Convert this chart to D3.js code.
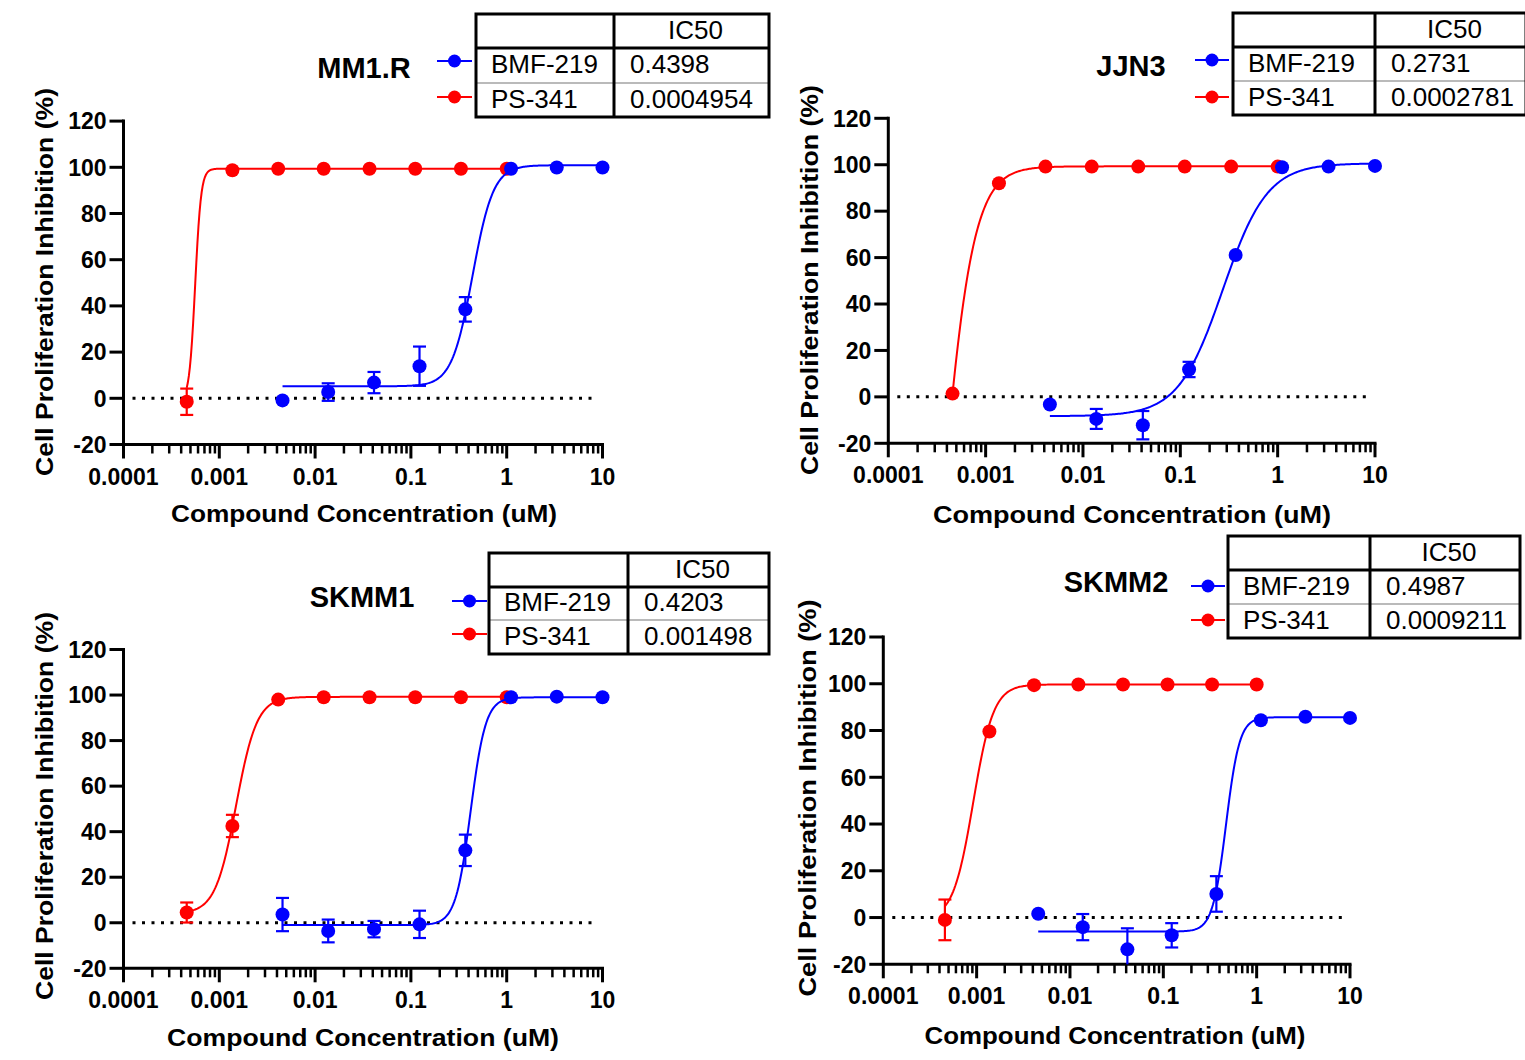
<!DOCTYPE html>
<html>
<head>
<meta charset="utf-8">
<title>Dose response</title>
<script src="https://d3js.org/d3.v7.min.js"></script>
<style>
  body { margin: 0; background: #fff; }
  svg { display: block; font-family: "Liberation Sans", Arial, sans-serif; }
  .tick-label { font-size: 23px; font-weight: bold; }
  .title { font-size: 29px; font-weight: bold; }
  .axis-title { font-size: 24px; font-weight: bold; }
  .cell { font-size: 26px; }
</style>
</head>
<body>
<script>
// doses (uM), 3-fold dilution series
var doseBMF = [0.00457, 0.0137, 0.0412, 0.123, 0.370, 1.11, 3.33, 10];
var dosePS  = [0.000457, 0.00137, 0.00412, 0.0123, 0.0370, 0.111, 0.333, 1];

var cellLines = ["MM1.R", "JJN3", "SKMM1", "SKMM2"];
var compounds = ["BMF-219", "PS-341"];

// mean % inhibition and error, per cell line
var mm1rBMF    = [-0.9, 2.7, 6.8, 13.9, 38.5, 99.4, 99.9, 99.9];
var mm1rBMFErr = [0, 3.8, 4.6, 8.5, 5.3, 0, 0, 0];
var mm1rPS     = [-1.5, 98.7, 99.4, 99.4, 99.4, 99.4, 99.4, 99.4];
var mm1rPSErr  = [5.7, 0, 0, 0, 0, 0, 0, 0];

var jjn3BMF    = [-3.3, -9.5, -12.2, 11.8, 61.1, 98.9, 99.2, 99.5];
var jjn3BMFErr = [0, 4.3, 6.1, 3.3, 0, 0, 0, 0];
var jjn3PS     = [1.4, 92.0, 99.2, 99.2, 99.2, 99.2, 99.2, 99.2];
var jjn3PSErr  = [0, 0, 0, 0, 0, 0, 0, 0];

var skmm1BMF    = [3.6, -3.6, -2.8, -0.7, 31.8, 99.0, 99.3, 99.0];
var skmm1BMFErr = [7.3, 5.0, 3.6, 6.0, 6.9, 0, 0, 0];
var skmm1PS     = [4.5, 42.5, 98.0, 99.0, 99.0, 99.0, 99.0, 99.0];
var skmm1PSErr  = [4.4, 4.9, 0, 0, 0, 0, 0, 0];

var skmm2BMF    = [1.6, -4.1, -13.6, -7.6, 10.1, 84.4, 85.9, 85.4];
var skmm2BMFErr = [0, 5.6, 9.0, 5.2, 7.6, 0, 0, 0];
var skmm2PS     = [-1.0, 79.6, 99.4, 99.7, 99.7, 99.7, 99.7, 99.7];
var skmm2PSErr  = [8.7, 0, 0, 0, 0, 0, 0, 0];

// fitted curves: [bottom, top, midpoint, hill]
var mm1rBMFFit  = [5.2, 100.9, 0.44, 4];
var mm1rPSFit   = [-1, 99.4, 0.00056, 14];
var jjn3BMFFit  = [-8.3, 100.6, 0.2731, 1.9];
var jjn3PSFit   = [-200, 99.3, 0.00035, 2.7];
var skmm1BMFFit = [-1, 99.0, 0.4203, 5.5];
var skmm1PSFit  = [4, 99.2, 0.001498, 4];
var skmm2BMFFit = [-6, 85.7, 0.47, 6];
var skmm2PSFit  = [-1, 99.7, 0.00092, 4];

// IC50 table text
var ic50BMF = ["0.4398", "0.2731", "0.4203", "0.4987"];
var ic50PS  = ["0.0004954", "0.0002781", "0.001498", "0.0009211"];

var yTicks = [-20, 0, 20, 40, 60, 80, 100, 120];
var xTicks = [0.0001, 0.001, 0.01, 0.1, 1, 10];
var xTickLabels = ["0.0001", "0.001", "0.01", "0.1", "1", "10"];

var blue = "#0000ff", red = "#ff0000";

var panelData = [
  {bmf: mm1rBMF, bmfErr: mm1rBMFErr, ps: mm1rPS, psErr: mm1rPSErr, bmfFit: mm1rBMFFit, psFit: mm1rPSFit},
  {bmf: jjn3BMF, bmfErr: jjn3BMFErr, ps: jjn3PS, psErr: jjn3PSErr, bmfFit: jjn3BMFFit, psFit: jjn3PSFit},
  {bmf: skmm1BMF, bmfErr: skmm1BMFErr, ps: skmm1PS, psErr: skmm1PSErr, bmfFit: skmm1BMFFit, psFit: skmm1PSFit},
  {bmf: skmm2BMF, bmfErr: skmm2BMFErr, ps: skmm2PS, psErr: skmm2PSErr, bmfFit: skmm2BMFFit, psFit: skmm2PSFit}
];

// page layout for each panel
var layout = [
  {x0: 123.5, x1: 602.5, yT: 121.1, yB: 444.5, title: [364, 78], leg: [437, 472, 61, 97],
   tab: {x: 476, y: 14, c1: 138, w: 293, rows: [34, 35, 34]}, ylab: [44, 282, 388], xlab: [364, 522, 386]},
  {x0: 888.3, x1: 1375, yT: 118.3, yB: 443.3, title: [1131, 76], leg: [1195, 1229, 60, 97],
   tab: {x: 1233, y: 13, c1: 142, w: 293, rows: [34, 34, 34]}, ylab: [809, 280, 390], xlab: [1132, 523, 398]},
  {x0: 123.5, x1: 602.5, yT: 649.5, yB: 968.3, title: [362, 607], leg: [452, 487, 601, 634],
   tab: {x: 489, y: 553, c1: 139, w: 280, rows: [34, 33, 34]}, ylab: [44, 806, 388], xlab: [363, 1046, 392]},
  {x0: 883.3, x1: 1350, yT: 637, yB: 964.3, title: [1116, 592], leg: [1191, 1225, 586, 620],
   tab: {x: 1228, y: 536, c1: 142, w: 292, rows: [34, 34, 34]}, ylab: [807, 798, 397], xlab: [1115, 1044, 381]}
];

var svg = d3.select("body").append("svg")
  .attr("width", 1525).attr("height", 1060);

function logistic(p, x) {
  return p[0] + (p[1] - p[0]) / (1 + Math.pow(p[2] / x, p[3]));
}

cellLines.forEach(function(name, i) {
  var L = layout[i], D = panelData[i];
  var g = svg.append("g");

  var x = d3.scaleLog().domain([0.0001, 10]).range([L.x0, L.x1]);
  var y = d3.scaleLinear().domain([-20, 120]).range([L.yB, L.yT]);

  // zero reference line
  g.append("line")
    .attr("x1", L.x0 + 9).attr("x2", L.x1 - 6)
    .attr("y1", y(0)).attr("y2", y(0))
    .attr("stroke", "#000").attr("stroke-width", 3)
    .attr("stroke-dasharray", "3,6.5");

  // y axis
  var yAxis = g.append("g");
  yAxis.append("line").attr("x1", L.x0).attr("x2", L.x0)
    .attr("y1", y(120) - 1.5).attr("y2", L.yB)
    .attr("stroke", "#000").attr("stroke-width", 3);
  yAxis.selectAll(".yt").data(yTicks).enter().append("line")
    .attr("x1", L.x0 - 14).attr("x2", L.x0)
    .attr("y1", function(d) { return y(d); }).attr("y2", function(d) { return y(d); })
    .attr("stroke", "#000").attr("stroke-width", 3);
  yAxis.selectAll("text").data(yTicks).enter().append("text")
    .attr("class", "tick-label")
    .attr("x", L.x0 - 17).attr("y", function(d) { return y(d); })
    .attr("dy", "0.36em").attr("text-anchor", "end")
    .text(function(d) { return d; });

  // x axis with minor ticks
  var minor = [];
  for (var e = -4; e < 1; e++) {
    for (var m = 2; m <= 9; m++) minor.push(m * Math.pow(10, e));
  }
  var xAxis = g.append("g");
  xAxis.append("line").attr("x1", L.x0 - 1.5).attr("x2", L.x1 + 1.5)
    .attr("y1", L.yB).attr("y2", L.yB)
    .attr("stroke", "#000").attr("stroke-width", 3);
  xAxis.selectAll(".mn").data(minor).enter().append("line")
    .attr("x1", function(d) { return x(d); }).attr("x2", function(d) { return x(d); })
    .attr("y1", L.yB).attr("y2", L.yB + 9)
    .attr("stroke", "#000").attr("stroke-width", 2.5);
  xAxis.selectAll(".mj").data(xTicks).enter().append("line")
    .attr("x1", function(d) { return x(d); }).attr("x2", function(d) { return x(d); })
    .attr("y1", L.yB).attr("y2", L.yB + 14)
    .attr("stroke", "#000").attr("stroke-width", 3);
  xAxis.selectAll("text").data(xTicks).enter().append("text")
    .attr("class", "tick-label")
    .attr("x", function(d) { return x(d); }).attr("y", L.yB + 40)
    .attr("text-anchor", "middle")
    .text(function(d, k) { return xTickLabels[k]; });

  // axis titles
  g.append("text").attr("class", "axis-title")
    .attr("transform", "translate(" + (L.ylab[0] + 9) + "," + L.ylab[1] + ") rotate(-90)")
    .attr("text-anchor", "middle")
    .attr("textLength", L.ylab[2]).attr("lengthAdjust", "spacingAndGlyphs")
    .text("Cell Proliferation Inhibition (%)");
  g.append("text").attr("class", "axis-title")
    .attr("x", L.xlab[0]).attr("y", L.xlab[1])
    .attr("text-anchor", "middle")
    .attr("textLength", L.xlab[2]).attr("lengthAdjust", "spacingAndGlyphs")
    .text("Compound Concentration (uM)");

  // series: PS-341 first, BMF-219 on top
  var series = [
    {dose: dosePS, val: D.ps, err: D.psErr, fit: D.psFit, color: red},
    {dose: doseBMF, val: D.bmf, err: D.bmfErr, fit: D.bmfFit, color: blue}
  ];
  var line = d3.line()
    .x(function(d) { return x(d[0]); })
    .y(function(d) { return y(d[1]); });

  series.forEach(function(s) {
    var lo = Math.log10(d3.min(s.dose)), hi = Math.log10(d3.max(s.dose));
    var pts = d3.range(0, 301).map(function(k) {
      var xv = Math.pow(10, lo + (hi - lo) * k / 300);
      return [xv, logistic(s.fit, xv)];
    });
    g.append("path").datum(pts)
      .attr("d", line).attr("fill", "none")
      .attr("stroke", s.color).attr("stroke-width", 2);

    var rows = s.dose.map(function(d, k) { return {x: d, v: s.val[k], e: s.err[k]}; })
    var eb = g.append("g").selectAll("g").data(rows.filter(function(r) { return r.e > 0; }))
      .enter().append("g");
    eb.append("line")
      .attr("x1", function(r) { return x(r.x); }).attr("x2", function(r) { return x(r.x); })
      .attr("y1", function(r) { return y(Math.min(120, r.v + r.e)); })
      .attr("y2", function(r) { return y(Math.max(-20, r.v - r.e)); })
      .attr("stroke", s.color).attr("stroke-width", 2.2);
    eb.append("line")
      .attr("x1", function(r) { return x(r.x) - 6.5; }).attr("x2", function(r) { return x(r.x) + 6.5; })
      .attr("y1", function(r) { return y(r.v + r.e); }).attr("y2", function(r) { return y(r.v + r.e); })
      .attr("stroke", s.color).attr("stroke-width", 2.2);
    eb.filter(function(r) { return r.v - r.e >= -20; }).append("line")
      .attr("x1", function(r) { return x(r.x) - 6.5; }).attr("x2", function(r) { return x(r.x) + 6.5; })
      .attr("y1", function(r) { return y(r.v - r.e); }).attr("y2", function(r) { return y(r.v - r.e); })
      .attr("stroke", s.color).attr("stroke-width", 2.2);

    g.append("g").selectAll("circle").data(rows).enter().append("circle")
      .attr("cx", function(r) { return x(r.x); })
      .attr("cy", function(r) { return y(r.v); })
      .attr("r", 7).attr("fill", s.color);
  });

  // title
  g.append("text").attr("class", "title")
    .attr("x", L.title[0]).attr("y", L.title[1]).attr("text-anchor", "middle")
    .text(name);

  // legend symbols
  [[blue, L.leg[2]], [red, L.leg[3]]].forEach(function(l) {
    g.append("line").attr("x1", L.leg[0]).attr("x2", L.leg[1])
      .attr("y1", l[1]).attr("y2", l[1])
      .attr("stroke", l[0]).attr("stroke-width", 2);
    g.append("circle").attr("cx", (L.leg[0] + L.leg[1]) / 2).attr("cy", l[1])
      .attr("r", 6.5).attr("fill", l[0]);
  });

  // IC50 table
  var T = L.tab;
  var r0 = T.y, r1 = r0 + T.rows[0], r2 = r1 + T.rows[1], r3 = r2 + T.rows[2];
  var tg = g.append("g");
  tg.append("line").attr("x1", T.x).attr("x2", T.x + T.w).attr("y1", r2).attr("y2", r2)
    .attr("stroke", "#777").attr("stroke-width", 1.2);
  tg.append("line").attr("x1", T.x).attr("x2", T.x + T.w).attr("y1", r1).attr("y2", r1)
    .attr("stroke", "#000").attr("stroke-width", 3);
  tg.append("line").attr("x1", T.x + T.c1).attr("x2", T.x + T.c1).attr("y1", r0).attr("y2", r3)
    .attr("stroke", "#000").attr("stroke-width", 3);
  tg.append("rect").attr("x", T.x).attr("y", r0).attr("width", T.w).attr("height", r3 - r0)
    .attr("fill", "none").attr("stroke", "#000").attr("stroke-width", 3);
  var colMid = T.x + T.c1 + (T.w - T.c1) / 2 + 4;
  tg.append("text").attr("class", "cell").attr("x", colMid).attr("y", (r0 + r1) / 2 + 7.5)
    .attr("text-anchor", "middle").text("IC50");
  var rowsTxt = [[compounds[0], ic50BMF[i], (r1 + r2) / 2], [compounds[1], ic50PS[i], (r2 + r3) / 2]];
  rowsTxt.forEach(function(rt) {
    tg.append("text").attr("class", "cell").attr("x", T.x + 15).attr("y", rt[2] + 7.5).text(rt[0]);
    tg.append("text").attr("class", "cell").attr("x", T.x + T.c1 + 16).attr("y", rt[2] + 7.5).text(rt[1]);
  });
});
</script>
</body>
</html>
